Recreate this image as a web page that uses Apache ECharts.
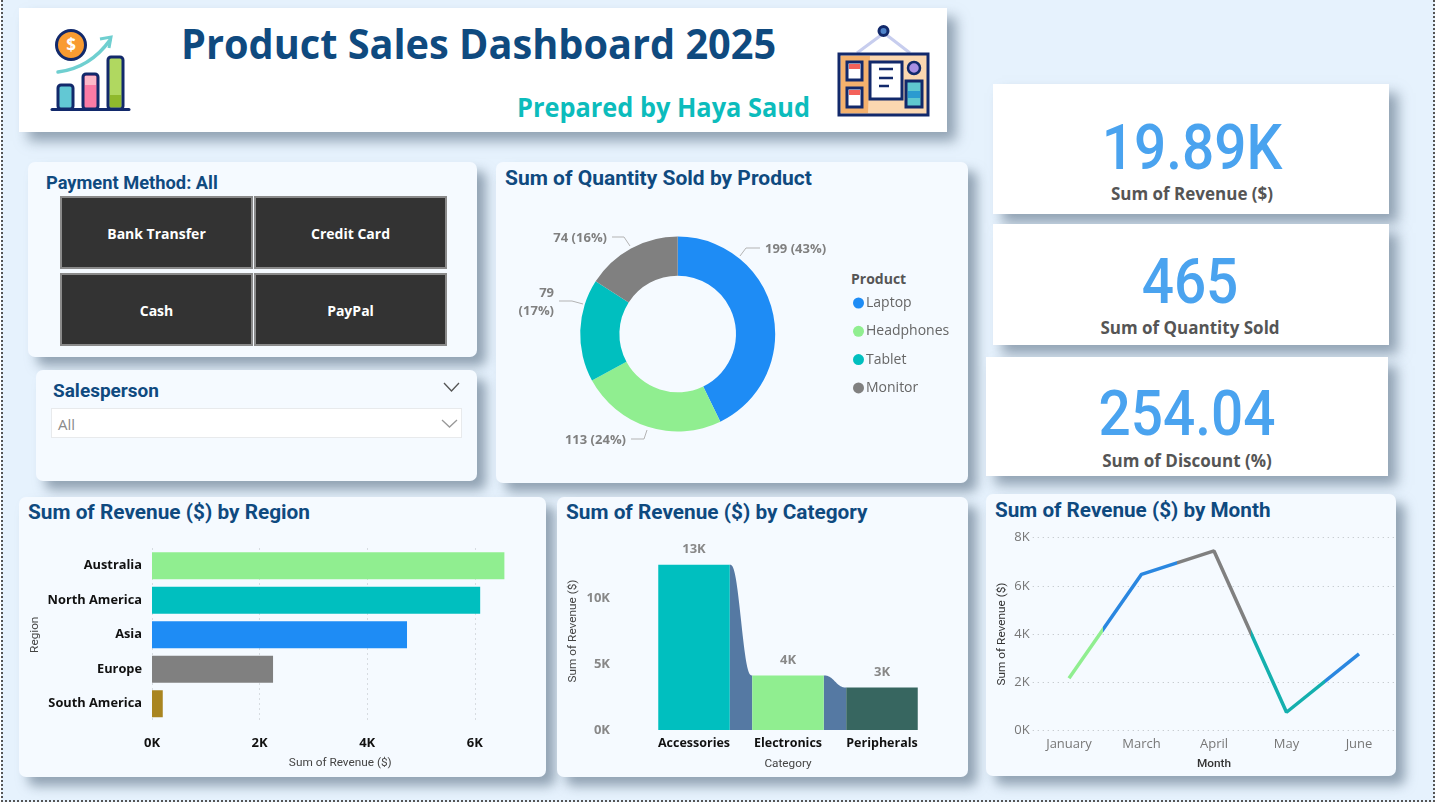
<!DOCTYPE html>
<html>
<head>
<meta charset="utf-8">
<title>Product Sales Dashboard 2025</title>
<script src="https://cdn.jsdelivr.net/npm/echarts@6/dist/echarts.min.js"></script>
<style>
html,body{margin:0;padding:0;background:#fff;overflow:hidden}
#page{position:relative;height:802px;background:#e6f2fd;box-sizing:border-box;overflow:hidden;
  border-left:2px dotted #555;border-right:2px dotted #555;border-bottom:2px dotted #555;margin-left:1px;width:1434px}
#layer{position:absolute;left:-3px;top:0;width:1435px;height:805px}
.card{position:absolute;background:#f5faff;border-radius:7px;box-shadow:9px 9px 12px rgba(100,120,140,.65)}
.white{background:#fff;border-radius:0}
.t{position:absolute;white-space:nowrap;line-height:1;transform-origin:left center;font-family:Roboto,sans-serif}
.head{font-weight:700;color:#0f4a7f;font-size:21px}
.btn{position:absolute;background:#333;border:2px solid #8a8a8a;box-sizing:border-box;color:#fff;font:700 14px "Open Sans",sans-serif;
  display:flex;align-items:center;justify-content:center;padding-top:1px}
.kpi{position:absolute;text-align:center;line-height:1;white-space:nowrap}
.kv{font:500 63px Roboto,sans-serif;color:#4aa3ef}
.kl{font:700 17px "Open Sans",sans-serif;color:#555}
#chart{position:absolute;left:0;top:0;width:1435px;height:805px}
svg{position:absolute;overflow:visible}
</style>
</head>
<body>
<div id="page">
<div id="layer">
  <div class="card white" style="left:19px;top:8px;width:928px;height:124px"></div>
  <div class="t" style="left:181px;top:14px;font:700 42px 'Open Sans',sans-serif;color:#0f4a7f;transform:scaleX(.945)">Product Sales Dashboard 2025</div>
  <div class="t" style="left:517px;top:89px;font:700 26px 'Open Sans',sans-serif;color:#0cbcbc;transform:scaleX(.975)">Prepared by Haya Saud</div>
  <svg style="left:0;top:0" width="1435" height="140">
    <path d="M58 72 Q90 68 110 40" fill="none" stroke="#6fcfd0" stroke-width="3.5" stroke-linecap="round"/>
    <path d="M100 39 L111 37 L109 48" fill="none" stroke="#6fcfd0" stroke-width="3" />
    <circle cx="71" cy="45" r="14.5" fill="#f99b31" stroke="#12296b" stroke-width="3"/>
    <text x="71" y="51" text-anchor="middle" font-family="Open Sans" font-weight="700" font-size="17" fill="#fff">$</text>
    <rect x="58" y="85" width="15" height="24" rx="3" fill="#62c8d4" stroke="#12296b" stroke-width="3"/>
    <rect x="83" y="74" width="15" height="35" rx="3" fill="#fb7ba5" stroke="#12296b" stroke-width="3"/>
    <rect x="85" y="76" width="11" height="9" fill="#fdb8c8"/>
    <rect x="108" y="57" width="15" height="52" rx="3" fill="#b0d860" stroke="#12296b" stroke-width="3"/>
    <rect x="110" y="95" width="11" height="12" fill="#8fb92c"/>
    <line x1="52" y1="109.500" x2="129" y2="109.500" stroke="#12296b" stroke-width="3" stroke-linecap="round"/>

    <path d="M857 53 L884 33 L910 53" fill="none" stroke="#c7cdee" stroke-width="3"/>
    <circle cx="883.500" cy="31" r="4.500" fill="#4f83c9" stroke="#12296b" stroke-width="3"/>
    <rect x="839" y="54" width="89" height="61" fill="#fbd7b0" stroke="#12296b" stroke-width="3"/>
    <path d="M841 56 H870 L868 113 H841 Z" fill="#f4b16d"/>
    <rect x="847" y="62" width="15" height="18" fill="#fff" stroke="#12296b" stroke-width="3"/>
    <rect x="849" y="64" width="11" height="5" fill="#f4625a"/>
    <rect x="847" y="88" width="15" height="19" fill="#fff" stroke="#12296b" stroke-width="3"/>
    <rect x="849" y="90" width="11" height="5" fill="#f4625a"/>
    <rect x="870" y="62" width="32" height="37" fill="#fff" stroke="#12296b" stroke-width="3"/>
    <path d="M879 69 H893 M879 78 H893 M879 86 H889" stroke="#12296b" stroke-width="2.500"/>
    <circle cx="914" cy="68" r="6" fill="#a98fe3" stroke="#12296b" stroke-width="2.500"/>
    <rect x="906" y="81" width="16" height="26" fill="#5fc8cf" stroke="#12296b" stroke-width="3"/>
    <rect x="908" y="91" width="12" height="7" fill="#2b9bd0"/>
  </svg>

  <div class="card" style="left:28px;top:162px;width:449px;height:195px"></div>
  <div class="t head" style="left:46px;top:174px;font-size:18.300px">Payment Method: All</div>
  <div id="payButtons"></div>

  <div class="card" style="left:36px;top:370px;width:441px;height:111px"></div>
  <div class="t head" style="left:53px;top:381px;font-size:19px">Salesperson</div>
  <div style="position:absolute;left:51px;top:408px;width:411px;height:30px;background:#fff;border:1px solid #e8eaec;box-sizing:border-box"></div>
  <div class="t" style="left:58px;top:414px;font:15px 'Open Sans',sans-serif;color:#8a8a8a">All</div>
  <svg style="left:0;top:0" width="1435" height="500">
    <path d="M444 383 L451.500 391 L459 383" fill="none" stroke="#555" stroke-width="1.300"/>
    <path d="M442 420 L449.500 427 L457 420" fill="none" stroke="#999" stroke-width="1.300"/>
  </svg>

  <div class="card" style="left:496px;top:162px;width:472px;height:321px"></div>
  <div class="t head" style="left:505px;top:168px">Sum of Quantity Sold by Product</div>
  <div class="t" style="left:851px;top:269px;font:700 14px 'Open Sans',sans-serif;color:#555">Product</div>

  <div class="card white" style="left:993px;top:84px;width:396px;height:130px"></div>
  <div class="card white" style="left:993px;top:224px;width:396px;height:121px"></div>
  <div class="card white" style="left:986px;top:357px;width:402px;height:119px"></div>
  <div id="kpis"></div>

  <div class="card" style="left:19px;top:497px;width:527px;height:280px"></div>
  <div class="t head" style="left:28px;top:502px;font-size:20.800px">Sum of Revenue ($) by Region</div>
  <div class="card" style="left:557px;top:497px;width:411px;height:280px"></div>
  <div class="t head" style="left:566px;top:502px;font-size:20.800px">Sum of Revenue ($) by Category</div>
  <div class="card" style="left:986px;top:494px;width:410px;height:282px"></div>
  <div class="t head" style="left:995px;top:500px;font-size:20.700px">Sum of Revenue ($) by Month</div>
  <div id="chart"></div>
</div>
</div>
<script>
const payMethods = ['Bank Transfer', 'Credit Card', 'Cash', 'PayPal'];
const kpiValues = ['19.89K', '465', '254.04'];
const kpiLabels = ['Sum of Revenue ($)', 'Sum of Quantity Sold', 'Sum of Discount (%)'];

const products = ['Laptop', 'Headphones', 'Tablet', 'Monitor'];
const productQty = [199, 113, 79, 74];

const regions = ['Australia', 'North America', 'Asia', 'Europe', 'South America'];
const regionRevenue = [6550, 6100, 4740, 2250, 200];

const categories = ['Accessories', 'Electronics', 'Peripherals'];
const categoryRevenue = [12520, 4130, 3220];

const months = ['January', 'March', 'April', 'May', 'June'];
const monthRevenue = [2160, 6480, 7450, 750, 3170];

const BLUE = '#1e8cf5', GREEN = '#90ee90', TEAL = '#00bfbf', GREY = '#808080';
const productColors = [BLUE, GREEN, TEAL, GREY];
const regionColors = [GREEN, TEAL, BLUE, GREY, '#a98520'];
const categoryColors = [TEAL, GREEN, '#376660'];
const monthColors = [GREEN, '#2a87e0', GREY, '#14b0ae', '#2a87e0'];
const LABEL_FONT = '"Open Sans", sans-serif';
const AXIS_FONT = 'Roboto, sans-serif';

// slicer buttons and kpi cards
const btnBox = document.getElementById('payButtons');
payMethods.forEach(function (name, i) {
  const b = document.createElement('div');
  b.className = 'btn';
  b.textContent = name;
  b.style.cssText = 'left:' + (i % 2 ? 254 : 60) + 'px;top:' + (i < 2 ? 196 : 273) + 'px;width:193px;height:73px';
  btnBox.appendChild(b);
});
const kpiBox = document.getElementById('kpis');
const kpiSpots = [[1192, 111, 191], [1190, 245, 325], [1187, 377, 458]];
kpiValues.forEach(function (v, i) {
  const s = kpiSpots[i];
  kpiBox.innerHTML +=
    '<div class="kpi kv" style="left:' + (s[0] - 150) + 'px;width:300px;top:' + s[1] + 'px;transform:scaleX(.9)">' + v + '</div>' +
    '<div class="kpi kl" style="left:' + (s[0] - 150) + 'px;width:300px;top:' + (s[2] - 9) + 'px">' + kpiLabels[i] + '</div>';
});

function kLabel(v) { return (v / 1000).toFixed(0) + 'K'; }

// pie labels in the source sit off the slice midpoints, so they get placed by hand
const pieLabelSpots = [
  { x: 765, y: 249, align: 'left', line: [[740, 256], [746, 248], [760, 248]] },
  { x: 626, y: 440, align: 'right', line: [[647, 430], [644, 439], [631, 439]] },
  { x: 554, y: 302, align: 'right', line: [[583, 304], [572, 301], [559, 301]] },
  { x: 607, y: 238, align: 'right', line: [[630, 246], [624, 237], [612, 237]] }
];

const BAR_W = 71.5;
function smoother(t) { return t * t * t * (t * (t * 6 - 15) + 10); }
function renderRibbon(params, api) {
  const i = api.value(0);
  const from = api.coord([i, api.value(1)]);
  const to = api.coord([i + 1, api.value(2)]);
  const base = api.coord([i, 0])[1];
  const x0 = from[0] + BAR_W / 2, x1 = to[0] - BAR_W / 2;
  const pts = [[x0, base]];
  for (let k = 0; k <= 40; k++) {
    const t = k / 40;
    pts.push([x0 + (x1 - x0) * t, from[1] + (to[1] - from[1]) * smoother(t)]);
  }
  pts.push([x1, base]);
  return { type: 'polygon', shape: { points: pts }, style: { fill: '#5579a3' } };
}

// colour of the month line flips halfway between two months
const monthStops = [];
monthColors.forEach(function (c, i) {
  monthStops.push({ offset: i === 0 ? 0 : (i - 0.5) / (months.length - 1), color: c });
  monthStops.push({ offset: i === months.length - 1 ? 1 : (i + 0.5) / (months.length - 1), color: c });
});

const dots = { type: [1, 4], color: '#b9bec2' };
const chart = echarts.init(document.getElementById('chart'), null, { width: 1435, height: 805 });
chart.setOption({
  animation: false,
  backgroundColor: 'transparent',
  legend: {
    orient: 'vertical', left: 848, top: 291, itemWidth: 11, itemHeight: 11, itemGap: 14.3,
    icon: 'circle', data: products,
    textStyle: { fontFamily: LABEL_FONT, fontSize: 14, color: '#666', padding: [0, 0, 0, -3] }
  },
  grid: [
    { left: 152, top: 548.5, width: 376.6, height: 172.5 },
    { left: 647, top: 532, width: 282, height: 198 },
    { left: 1032.75, top: 537.7, width: 362.5, height: 192.6 }
  ],
  xAxis: [
    {
      gridIndex: 0, type: 'value', min: 0, max: 7000, interval: 2000,
      name: 'Sum of Revenue ($)', nameLocation: 'middle', nameGap: 36,
      nameTextStyle: { fontFamily: AXIS_FONT, fontSize: 11.8, color: '#444' },
      axisLabel: { showMaxLabel: false, margin: 16, formatter: kLabel, fontFamily: LABEL_FONT, fontWeight: 700, fontSize: 13, color: '#111' },
      splitLine: { showMaxLine: false, lineStyle: dots }
    },
    {
      gridIndex: 1, type: 'category', data: categories,
      name: 'Category', nameLocation: 'middle', nameGap: 28,
      nameTextStyle: { fontFamily: AXIS_FONT, fontSize: 11.8, color: '#444' },
      axisLine: { show: false }, axisTick: { show: false },
      axisLabel: { margin: 7, interval: 0, fontFamily: LABEL_FONT, fontWeight: 700, fontSize: 12.5, color: '#111' }
    },
    {
      gridIndex: 2, type: 'category', data: months, boundaryGap: true,
      name: 'Month', nameLocation: 'middle', nameGap: 28,
      nameTextStyle: { fontFamily: AXIS_FONT, fontSize: 11.8, fontWeight: 500, color: '#333' },
      axisLine: { show: false }, axisTick: { show: false },
      axisLabel: { margin: 7, interval: 0, fontFamily: LABEL_FONT, fontSize: 13, color: '#777' }
    }
  ],
  yAxis: [
    {
      gridIndex: 0, type: 'category', inverse: true, data: regions,
      name: 'Region', nameLocation: 'middle', nameGap: 111,
      nameTextStyle: { fontFamily: AXIS_FONT, fontSize: 11.8, color: '#444' },
      axisLine: { show: false }, axisTick: { show: false },
      axisLabel: { margin: 10, fontFamily: LABEL_FONT, fontWeight: 700, fontSize: 12.8, color: '#111' }
    },
    {
      gridIndex: 1, type: 'value', min: 0, max: 15000, interval: 5000,
      name: 'Sum of Revenue ($)', nameLocation: 'middle', nameGap: 68,
      nameTextStyle: { fontFamily: AXIS_FONT, fontSize: 11.8, color: '#444' },
      splitLine: { show: false },
      axisLabel: { showMaxLabel: false, margin: 37, formatter: kLabel, fontFamily: LABEL_FONT, fontWeight: 700, fontSize: 13, color: '#888' }
    },
    {
      gridIndex: 2, type: 'value', min: 0, max: 8000, interval: 2000,
      name: 'Sum of Revenue ($)', nameLocation: 'middle', nameGap: 25,
      nameTextStyle: { fontFamily: AXIS_FONT, fontSize: 11.8, color: '#333' },
      splitLine: { lineStyle: dots },
      axisLabel: { margin: 3, formatter: kLabel, fontFamily: LABEL_FONT, fontSize: 13, color: '#777' }
    }
  ],
  series: [
    {
      type: 'pie', center: [677.7, 334], radius: [58.3, 97.5], startAngle: 90,
      data: products.map(function (name, i) {
        return { name: name, value: productQty[i], itemStyle: { color: productColors[i] } };
      }),
      label: {
        show: true, fontFamily: LABEL_FONT, fontWeight: 700, fontSize: 13, color: '#808080', lineHeight: 18,
        formatter: function (p) { return p.value + (p.name === 'Tablet' ? '\n' : ' ') + '(' + p.percent.toFixed(0) + '%)'; }
      },
      labelLine: { show: true, lineStyle: { color: '#b3b3b3', width: 1 } },
      labelLayout: function (p) {
        const s = pieLabelSpots[p.dataIndex];
        return { x: s.x, y: s.y, align: s.align, verticalAlign: 'middle', labelLinePoints: s.line };
      }
    },
    {
      type: 'bar', xAxisIndex: 0, yAxisIndex: 0, barWidth: 27,
      data: regionRevenue.map(function (v, i) { return { value: v, itemStyle: { color: regionColors[i] } }; })
    },
    {
      type: 'custom', xAxisIndex: 1, yAxisIndex: 1, renderItem: renderRibbon, encode: { x: 0, y: 1 },
      data: categoryRevenue.slice(0, -1).map(function (v, i) { return [i, v, categoryRevenue[i + 1]]; })
    },
    {
      type: 'bar', xAxisIndex: 1, yAxisIndex: 1, barWidth: BAR_W,
      label: { show: true, position: 'top', distance: 9, formatter: function (p) { return kLabel(p.value); }, fontFamily: LABEL_FONT, fontWeight: 700, fontSize: 13, color: '#888' },
      data: categoryRevenue.map(function (v, i) { return { value: v, itemStyle: { color: categoryColors[i] } }; })
    },
    {
      type: 'line', xAxisIndex: 2, yAxisIndex: 2, data: monthRevenue, symbol: 'none',
      lineStyle: { width: 3.5, color: { type: 'linear', x: 0, y: 0, x2: 1, y2: 0, colorStops: monthStops } }
    }
  ]
});
</script>
</body>
</html>
